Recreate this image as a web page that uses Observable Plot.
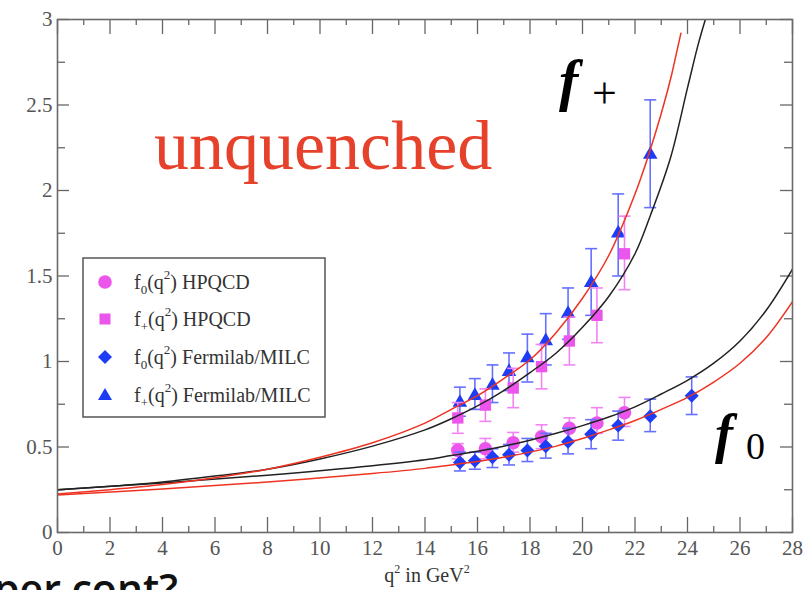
<!DOCTYPE html>
<html><head><meta charset="utf-8">
<script src="https://cdn.jsdelivr.net/npm/d3@7"></script>
<script src="https://cdn.jsdelivr.net/npm/@observablehq/plot@0.6"></script>
<style>
html,body{margin:0;padding:0;background:#fff;}
#wrap{position:relative;width:811px;height:590px;overflow:hidden;background:#fff;}
#chart svg{display:block;}
#ov{position:absolute;left:0;top:0;pointer-events:none;}
</style></head>
<body><div id="wrap"><div id="chart"></div>
<svg id="ov" width="811" height="590" font-family="'Liberation Serif', serif">
  <text x="154" y="169" font-size="70" fill="#e5412b">unquenched</text>
  <text x="559" y="100" font-size="58" font-style="italic" font-weight="bold" fill="#000">f</text>
  <text x="592" y="108" font-size="44" fill="#000">+</text>
  <text x="715" y="452" font-size="54" font-style="italic" font-weight="bold" fill="#000">f</text>
  <text x="746" y="459" font-size="38" fill="#000">0</text>
  <text x="-6" y="604" font-size="41" font-weight="600" font-family="'Open Sans', sans-serif" fill="#111">per cont?</text>
  <text x="427" y="582" font-size="20" text-anchor="middle" fill="#333">q<tspan dy="-9" font-size="12">2</tspan><tspan dy="9"> in GeV</tspan><tspan dy="-9" font-size="12">2</tspan></text>
  <g id="legend"></g>
</svg>
</div>
<script>
// ---- axis ticks ----
const xMajor = [0,2,4,6,8,10,12,14,16,18,20,22,24,26,28];
const xMinor = [1,3,5,7,9,11,13,15,17,19,21,23,25,27];
const yMajor = [0,0.5,1,1.5,2,2.5,3];
const yMinor = [0.25,0.75,1.25,1.75,2.25,2.75];

// ---- HPQCD (magenta) ----
const hpqcdX    = [15.25, 16.3, 17.36, 18.44, 19.5, 20.55, 21.6];
const hpqcdF0   = [0.48, 0.49, 0.525, 0.56, 0.61, 0.64, 0.70];
const hpqcdF0Lo = [0.43, 0.43, 0.47, 0.49, 0.54, 0.58, 0.62];
const hpqcdF0Hi = [0.52, 0.55, 0.585, 0.63, 0.67, 0.73, 0.79];
const hpqcdFp   = [0.67, 0.745, 0.845, 0.97, 1.12, 1.27, 1.63];
const hpqcdFpLo = [0.58, 0.65, 0.73, 0.84, 0.98, 1.11, 1.42];
const hpqcdFpHi = [0.76, 0.84, 0.96, 1.10, 1.26, 1.43, 1.85];

// ---- Fermilab/MILC (blue) ----
const fnalF0X  = [15.33, 15.9, 16.57, 17.2, 17.9, 18.6, 19.45, 20.33, 21.36, 22.58, 24.16];
const fnalF0   = [0.41, 0.42, 0.44, 0.455, 0.48, 0.505, 0.53, 0.575, 0.625, 0.68, 0.80];
const fnalF0Lo = [0.36, 0.37, 0.38, 0.395, 0.415, 0.435, 0.46, 0.49, 0.54, 0.59, 0.69];
const fnalF0Hi = [0.47, 0.47, 0.49, 0.515, 0.55, 0.58, 0.61, 0.66, 0.71, 0.78, 0.91];
const fnalFpX  = [15.33, 15.9, 16.57, 17.2, 17.9, 18.6, 19.45, 20.33, 21.36, 22.58];
const fnalFp   = [0.76, 0.80, 0.86, 0.94, 1.02, 1.12, 1.28, 1.46, 1.75, 2.21];
const fnalFpLo = [0.68, 0.72, 0.76, 0.83, 0.88, 0.98, 1.13, 1.27, 1.50, 1.90];
const fnalFpHi = [0.85, 0.90, 0.98, 1.05, 1.16, 1.28, 1.43, 1.66, 1.98, 2.53];

// ---- fit curves ----
const redPlusX = [0,2,4,6,8,10,12,14,15,16,17,18,19,20,21,22,22.5,23,23.4,23.75];
const redPlusY = [0.225,0.25,0.28,0.32,0.37,0.44,0.525,0.64,0.72,0.80,0.90,1.01,1.17,1.37,1.62,1.98,2.2,2.45,2.68,2.92];
const blackPlusX = [0,2,4,6,8,10,12,14,15,16,17,18,19,20,21,22,22.6,23.35,24,24.4,24.68];
const blackPlusY = [0.25,0.27,0.295,0.33,0.37,0.43,0.505,0.6,0.665,0.74,0.83,0.935,1.05,1.2,1.38,1.63,1.86,2.19,2.6,2.85,3.0];
const redZeroX = [0,4,8,12,14,15,16,17,18,19,20,21,22,23,24,25,26,27,28];
const redZeroY = [0.22,0.255,0.295,0.345,0.375,0.395,0.415,0.44,0.47,0.505,0.55,0.6,0.655,0.72,0.79,0.88,0.99,1.14,1.35];
const blackZeroX = [0,4,8,12,14,15,16,17,18,19,20,21,22,23,24,25,26,27,28];
const blackZeroY = [0.25,0.29,0.335,0.39,0.425,0.45,0.475,0.505,0.54,0.58,0.625,0.675,0.735,0.81,0.89,0.99,1.12,1.3,1.54];

// ---- legend ----
const legendLabels = [
  ["f","0","HPQCD"],
  ["f","+","HPQCD"],
  ["f","0","Fermilab/MILC"],
  ["f","+","Fermilab/MILC"]
];

const MAG = "#ec55ec", MAGBAR = "#f283f2";
const BLUE = "#1e3cf5", BLUEBAR = "#6670ff";

const rows = (xs, ys, lo, hi) => xs.map((x, i) => ({x, y: ys[i], lo: lo[i], hi: hi[i]}));
const line = (xs, ys) => xs.map((x, i) => ({x, y: ys[i]}));

const f0H = rows(hpqcdX, hpqcdF0, hpqcdF0Lo, hpqcdF0Hi);
const fpH = rows(hpqcdX, hpqcdFp, hpqcdFpLo, hpqcdFpHi);
const f0F = rows(fnalF0X, fnalF0, fnalF0Lo, fnalF0Hi);
const fpF = rows(fnalFpX, fnalFp, fnalFpLo, fnalFpHi);

const cap = {draw(ctx, size) { const r = Math.sqrt(size / Math.PI); ctx.moveTo(-r, 0); ctx.lineTo(r, 0); }};

const W = 811, H = 590, mL = 57, mR = 19, mT = 19, mB = 58;
const iW = W - mL - mR, iH = H - mT - mB;

function errMarks(d, color) {
  return [
    Plot.ruleX(d, {x: "x", y1: "lo", y2: "hi", stroke: color, strokeWidth: 1.6}),
    Plot.dot(d, {x: "x", y: "lo", symbol: cap, r: 6, stroke: color, fill: "none", strokeWidth: 1.6}),
    Plot.dot(d, {x: "x", y: "hi", symbol: cap, r: 6, stroke: color, fill: "none", strokeWidth: 1.6})
  ];
}

const chart = Plot.plot({
  width: W, height: H,
  marginLeft: mL, marginRight: mR, marginTop: mT, marginBottom: mB,
  x: {domain: [0, 28], ticks: xMajor, tickSize: 0, tickPadding: 8, tickFormat: d => String(d), label: null},
  y: {domain: [0, 3], ticks: yMajor, tickSize: 0, tickPadding: 5, tickFormat: d => String(d), label: null},
  style: {fontFamily: "'Liberation Serif', serif", fontSize: "21px", color: "#555", background: "transparent", overflow: "visible"},
  marks: [
    // inward ticks on all four sides
    Plot.tickX(xMajor, {stroke: "#666", strokeWidth: 1.3, insetTop: iH - 15}),
    Plot.tickX(xMinor, {stroke: "#666", strokeWidth: 1.3, insetTop: iH - 6}),
    Plot.tickX(xMajor, {stroke: "#666", strokeWidth: 1.3, insetBottom: iH - 15}),
    Plot.tickX(xMinor, {stroke: "#666", strokeWidth: 1.3, insetBottom: iH - 6}),
    Plot.tickY(yMajor, {stroke: "#666", strokeWidth: 1.3, insetRight: iW - 12}),
    Plot.tickY(yMinor, {stroke: "#666", strokeWidth: 1.3, insetRight: iW - 8}),
    Plot.tickY(yMajor, {stroke: "#666", strokeWidth: 1.3, insetLeft: iW - 12}),
    Plot.tickY(yMinor, {stroke: "#666", strokeWidth: 1.3, insetLeft: iW - 8}),
    // data
    ...errMarks(f0H, MAGBAR),
    Plot.dot(f0H, {x: "x", y: "y", symbol: "circle", r: 6.8, fill: MAG, stroke: "none"}),
    ...errMarks(f0F, BLUEBAR),
    Plot.dot(f0F, {x: "x", y: "y", symbol: "diamond2", r: 6.3, fill: BLUE, stroke: "none"}),
    ...errMarks(fpF, BLUEBAR),
    Plot.dot(fpF, {x: "x", y: "y", symbol: "triangle", r: 5.4, fill: BLUE, stroke: "none"}),
    ...errMarks(fpH, MAGBAR),
    Plot.dot(fpH, {x: "x", y: "y", symbol: "square", r: 6.4, fill: MAG, stroke: "none"}),
    // fits
    Plot.line(line(blackZeroX, blackZeroY), {x: "x", y: "y", stroke: "#222", strokeWidth: 1.5, curve: "catmull-rom", clip: true}),
    Plot.line(line(redZeroX, redZeroY), {x: "x", y: "y", stroke: "#ee3322", strokeWidth: 1.5, curve: "catmull-rom", clip: true}),
    Plot.line(line(blackPlusX, blackPlusY), {x: "x", y: "y", stroke: "#222", strokeWidth: 1.5, curve: "catmull-rom", clip: true}),
    Plot.line(line(redPlusX, redPlusY), {x: "x", y: "y", stroke: "#ee3322", strokeWidth: 1.5, curve: "catmull-rom", clip: true}),
    Plot.frame({stroke: "#6a6a6a", strokeWidth: 1.6})
  ]
});
chart.querySelectorAll("text").forEach(t => { t.style.fontSize = "21px"; t.style.fontFamily = "'Liberation Serif', serif"; });
document.getElementById("chart").appendChild(chart);

// legend drawn in the overlay
const NS = "http://www.w3.org/2000/svg";
const lg = document.getElementById("legend");
function el(name, attrs, parent) {
  const e = document.createElementNS(NS, name);
  for (const k in attrs) e.setAttribute(k, attrs[k]);
  parent.appendChild(e);
  return e;
}
el("rect", {x: 83, y: 258, width: 242, height: 159, fill: "#fff", stroke: "#555", "stroke-width": 1.5}, lg);
const rowY = [282, 319, 357, 395];
const sym = [
  (cy) => el("circle", {cx: 105, cy, r: 6.8, fill: MAG}, lg),
  (cy) => el("rect", {x: 99.5, y: cy - 5.5, width: 11, height: 11, fill: MAG}, lg),
  (cy) => el("path", {d: `M105,${cy-7}L112,${cy}L105,${cy+7}L98,${cy}Z`, fill: BLUE}, lg),
  (cy) => el("path", {d: `M105,${cy-7}L112,${cy+5}L98,${cy+5}Z`, fill: BLUE}, lg)
];
legendLabels.forEach(([f, sub, name], i) => {
  const cy = rowY[i];
  sym[i](cy);
  const t = el("text", {x: 134, y: cy + 7, "font-size": 20, fill: "#333"}, lg);
  const parts = [
    [f, null, null],
    [sub, 13, 5],
    ["(q", null, -5],
    ["2", 13, -10],
    [") " + name, null, 10]
  ];
  for (const [s, fs, dy] of parts) {
    const ts = el("tspan", {}, t);
    if (fs) ts.setAttribute("font-size", fs);
    if (dy) ts.setAttribute("dy", dy);
    ts.textContent = s;
  }
});
</script>
</body></html>
